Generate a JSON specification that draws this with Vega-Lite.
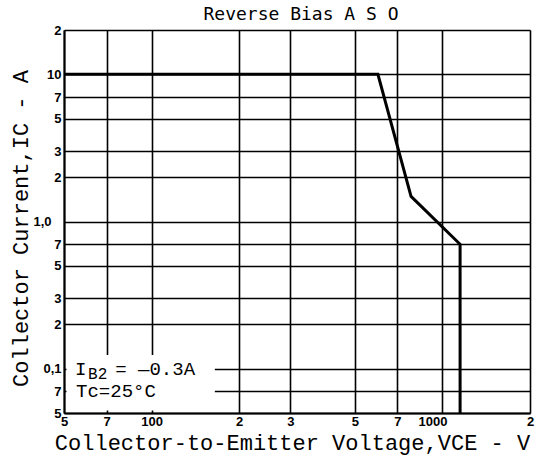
{
  "$schema": "https://vega.github.io/schema/vega-lite/v6.json",
  "autosize": "none",
  "width": 466,
  "height": 383,
  "padding": {"left": 64, "top": 30, "right": 9, "bottom": 53},
  "background": "white",
  "title": {"text": "Reverse Bias A S O", "font": "DejaVu Sans Mono", "fontSize": 18, "fontWeight": "normal", "color": "black", "offset": 0, "anchor": "middle", "dx": 4},
  "config": {"view": {"stroke": null}},
  "datasets": {
    "curve": [
      {"i": 1, "vce": 50, "ic": 10},
      {"i": 2, "vce": 600, "ic": 10},
      {"i": 3, "vce": 780, "ic": 1.48},
      {"i": 4, "vce": 1150, "ic": 0.7},
      {"i": 5, "vce": 1150, "ic": 0.05}
    ],
    "mask": [{"vce": 51, "vce2": 165, "ic": 0.052, "ic2": 0.124}],
    "note": [
      {"text": "I", "vce": 54.5, "ic": 0.1},
      {"text": "= —0.3A", "vce": 75, "ic": 0.1},
      {"text": "Tc=25°C", "vce": 55, "ic": 0.07}
    ],
    "noteSub": [{"text": "B2", "vce": 60.5, "ic": 0.1}]
  },
  "layer": [
    {
      "data": {"name": "mask"},
      "mark": {"type": "rect", "fill": "white", "stroke": null},
      "encoding": {
        "x": {
          "field": "vce", "type": "quantitative",
          "scale": {"type": "log", "domain": [50, 2000], "nice": false, "zero": false},
          "axis": {
            "title": "Collector-to-Emitter Voltage,VCE - V",
            "values": [50, 70, 100, 200, 300, 500, 700, 1000, 2000],
            "labelExpr": "datum.value==100 ? '100' : datum.value==1000 ? '1000' : format(datum.value/pow(10,floor(log(datum.value)/LN10+1e-9)),'.0f')",
            "grid": true, "gridColor": "black", "gridWidth": 1.6, "gridOpacity": 1,
            "domain": true, "domainColor": "black", "domainWidth": 2,
            "ticks": false,
            "labelFont": "Liberation Sans", "labelFontWeight": "bold", "labelFontSize": 13, "labelColor": "black",
            "labelPadding": 2, "labelFlush": false, "labelOverlap": false, "labelBound": false,
            "labelOffset": {"condition": {"test": "datum.value==1000", "value": -10}, "value": 0},
            "titleFont": "Liberation Mono", "titleFontSize": 22, "titleFontWeight": "normal", "titleColor": "black",
            "titleX": 228, "titleY": 29, "titleBaseline": "middle"
          }
        },
        "x2": {"field": "vce2"},
        "y": {
          "field": "ic", "type": "quantitative",
          "scale": {"type": "log", "domain": [0.05, 20], "nice": false, "zero": false},
          "axis": {
            "title": "Collector Current,IC  -  A",
            "values": [0.05, 0.07, 0.1, 0.2, 0.3, 0.5, 0.7, 1, 2, 3, 5, 7, 10, 20],
            "labelExpr": "datum.value==0.1 ? '0,1' : datum.value==1 ? '1,0' : datum.value==10 ? '10' : format(datum.value/pow(10,floor(log(datum.value)/LN10+1e-9)),'.0f')",
            "grid": true, "gridColor": "black", "gridWidth": 1.6, "gridOpacity": 1,
            "domain": true, "domainColor": "black", "domainWidth": 2,
            "ticks": false,
            "labelFont": "Liberation Sans", "labelFontWeight": "bold", "labelFontSize": 13, "labelColor": "black",
            "labelPadding": {"condition": {"test": "datum.value==1", "value": 13}, "value": 3},
            "labelOverlap": false, "labelBound": false, "labelFlush": false, "labelBaseline": "middle",
            "titleFont": "Liberation Mono", "titleFontSize": 22, "titleFontWeight": "normal", "titleColor": "black",
            "titleX": -44, "titleY": 198, "titleAngle": -90, "titleBaseline": "middle", "titleAlign": "center"
          }
        },
        "y2": {"field": "ic2"}
      }
    },
    {
      "data": {"name": "curve"},
      "mark": {"type": "line", "color": "black", "strokeWidth": 3, "strokeJoin": "miter"},
      "encoding": {
        "x": {"field": "vce", "type": "quantitative"},
        "y": {"field": "ic", "type": "quantitative"},
        "order": {"field": "i", "type": "quantitative"}
      }
    },
    {
      "data": {"name": "note"},
      "mark": {"type": "text", "font": "Liberation Mono", "fontSize": 19, "align": "left", "baseline": "middle", "color": "black"},
      "encoding": {
        "x": {"field": "vce", "type": "quantitative"},
        "y": {"field": "ic", "type": "quantitative"},
        "text": {"field": "text"}
      }
    },
    {
      "data": {"name": "noteSub"},
      "mark": {"type": "text", "font": "Liberation Mono", "fontSize": 16, "align": "left", "baseline": "middle", "color": "black", "dy": 5},
      "encoding": {
        "x": {"field": "vce", "type": "quantitative"},
        "y": {"field": "ic", "type": "quantitative"},
        "text": {"field": "text"}
      }
    }
  ]
}
